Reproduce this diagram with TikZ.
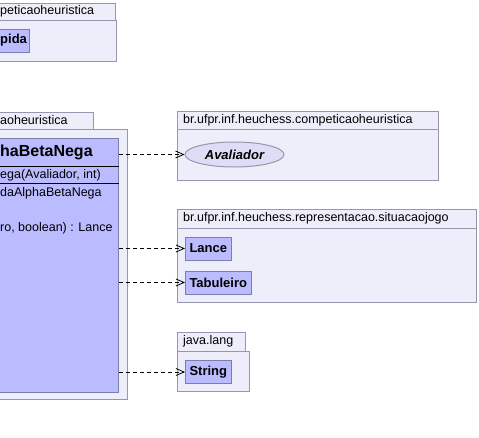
\documentclass[tikz,border=0pt]{standalone}
\usepackage{fontspec}
\setmainfont{Liberation Sans}
\usepackage{tikz}
\usetikzlibrary{arrows.meta,shapes.geometric}

\definecolor{pkgfill}{RGB}{238,238,250}
\definecolor{pkgline}{RGB}{150,150,175}
\definecolor{clsfill}{RGB}{187,187,255}
\definecolor{clsline}{RGB}{125,125,170}
\definecolor{ifcfill}{RGB}{221,221,245}

\tikzset{
  pkg/.style={draw=pkgline, fill=pkgfill, line width=1pt},
  pkgname/.style={anchor=west, inner sep=0pt, font=\fontsize{12.5}{14}\selectfont},
  cls/.style={draw=clsline, fill=clsfill, line width=1pt, anchor=west, inner xsep=4pt,
    minimum height=23pt, font=\fontsize{13}{15}\selectfont\bfseries},
  member/.style={anchor=west, inner sep=0pt, font=\fontsize{12.5}{14}\selectfont},
  dep/.style={draw=black, line width=0.8pt, dash pattern=on 4pt off 3pt,
    -{Straight Barb[length=8pt,width=7pt]}},
}

\begin{document}
\begin{tikzpicture}[x=1pt, y=-1pt]
  \useasboundingbox (0,0) rectangle (479,437);
  \clip (0,0) rectangle (479,437);

  % package top left
  \draw[pkg] (-150,3) rectangle (115,20);
  \draw[pkg] (-150,20) rectangle (116,61);
  \node[pkgname] (tlname) at (0,11.5) {peticaoheuristica};
  \node[cls, anchor=east, minimum width=80pt] (rapida) at (30,40.5) {};
  \node[member, font=\fontsize{13}{15}\selectfont\bfseries] (rapidaname) at (0,40.5) {pida};

  % package with the search class
  \draw[pkg] (-150,112) rectangle (93,129);
  \draw[pkg] (-150,129) rectangle (127,399);
  \node[pkgname] (mlname) at (0,120.5) {aoheuristica};
  \node[cls, anchor=north east, minimum width=300pt, minimum height=254pt] (alpha) at (119,138) {};
  \draw[black, line width=1pt] (alpha.west |- 0,166) -- (alpha.east |- 0,166);
  \draw[black, line width=1pt] (alpha.west |- 0,183) -- (alpha.east |- 0,183);
  \node[member, font=\fontsize{16}{18}\selectfont\bfseries] (alphaname) at (0,152) {haBetaNega};
  \node[member] (ctor) at (0,175) {ega(Avaliador, int)};
  \node[member] (field) at (0,193) {daAlphaBetaNega};
  \node[member] (method) at (0,228) {ro, boolean) : Lance};

  % br.ufpr.inf.heuchess.competicaoheuristica
  \draw[pkg] (177,111) rectangle (438,129);
  \draw[pkg] (177,129) rectangle (438,180);
  \node[pkgname] (compname) at (183,120) {br.ufpr.inf.heuchess.competicaoheuristica};
  \node[ellipse, draw=pkgline, fill=ifcfill, line width=1pt, minimum width=99pt,
    minimum height=25pt, font=\fontsize{13}{15}\selectfont\bfseries\itshape] (av) at (234.5,154.5) {Avaliador};

  % br.ufpr.inf.heuchess.representacao.situacaojogo
  \draw[pkg] (177,209) rectangle (476,228);
  \draw[pkg] (177,228) rectangle (476,302);
  \node[pkgname] (reprname) at (183,218.5) {br.ufpr.inf.heuchess.representacao.situacaojogo};
  \node[cls] (lance) at (185,248.5) {Lance};
  \node[cls] (tab) at (185,282.5) {Tabuleiro};

  % java.lang
  \draw[pkg] (177,332) rectangle (245,351);
  \draw[pkg] (177,351) rectangle (249,391);
  \node[pkgname] (langname) at (183,341.5) {java.lang};
  \node[cls] (str) at (185,372) {String};

  % dependencies
  \draw[dep] (alpha.east |- av.west) -- (av.west);
  \draw[dep] (alpha.east |- lance.west) -- (lance.west);
  \draw[dep] (alpha.east |- tab.west) -- (tab.west);
  \draw[dep] (alpha.east |- str.west) -- (str.west);
\end{tikzpicture}
\end{document}
